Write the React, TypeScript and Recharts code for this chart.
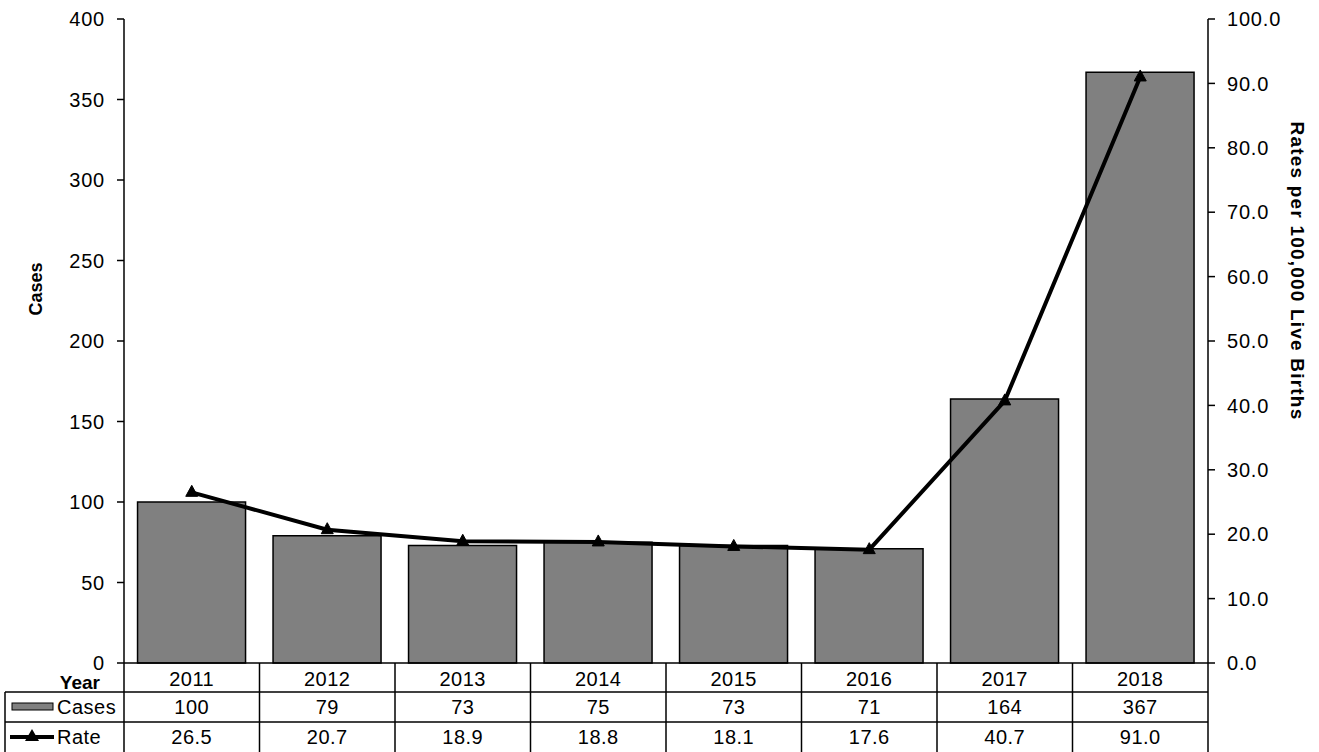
import React from 'react';
import { ComposedChart, Bar, Line, XAxis, YAxis } from 'recharts';

const years = ['2011', '2012', '2013', '2014', '2015', '2016', '2017', '2018'];
const cases = [100, 79, 73, 75, 73, 71, 164, 367];
const rates = [26.5, 20.7, 18.9, 18.8, 18.1, 17.6, 40.7, 91.0];
const caseTicks = [0, 50, 100, 150, 200, 250, 300, 350, 400];
const rateTicks = [0, 10, 20, 30, 40, 50, 60, 70, 80, 90, 100];

const data = years.map((y, i) => ({ year: y, cases: cases[i], rate: rates[i] }));

const W = 1319;
const H = 752;
const M = { top: 19, right: 31, bottom: 0, left: 64 };
const LEFT_W = 60;
const RIGHT_W = 80;
const X_H = 89;
const PLOT_L = M.left + LEFT_W;
const PLOT_R = W - M.right - RIGHT_W;
const PLOT_B = H - M.bottom - X_H;
const BAND = (PLOT_R - PLOT_L) / years.length;
const ROW1 = 29;
const ROW2 = 30;
const FONT = 'Liberation Sans, Arial, sans-serif';
const FS = 20;

const TableTick = (props: any) => {
  const { x, payload } = props;
  const i = payload.index;
  const l = x - BAND / 2;
  const r = x + BAND / 2;
  const y0 = PLOT_B;
  const y1 = y0 + ROW1;
  const y2 = y1 + ROW2;
  const y3 = H;
  const ts = { fontSize: FS, fontFamily: FONT, fill: '#000', letterSpacing: 0.5 } as any;
  return (
    <g>
      <line x1={l} y1={y0} x2={l} y2={y3} stroke="#000" strokeWidth={1.5} />
      {i === years.length - 1 && <line x1={r} y1={y0} x2={r} y2={y3} stroke="#000" strokeWidth={1.5} />}
      <line x1={l} y1={y1} x2={r} y2={y1} stroke="#000" strokeWidth={1.5} />
      <line x1={l} y1={y2} x2={r} y2={y2} stroke="#000" strokeWidth={1.5} />
      <text x={x} y={y0 + ROW1 / 2 + 1} textAnchor="middle" dominantBaseline="central" {...ts}>{years[i]}</text>
      <text x={x} y={y1 + ROW2 / 2} textAnchor="middle" dominantBaseline="central" {...ts}>{cases[i]}</text>
      <text x={x} y={y2 + ROW2 / 2} textAnchor="middle" dominantBaseline="central" {...ts}>{rates[i].toFixed(1)}</text>
      {i === 0 && (
        <g>
          <text x={100} y={y0 + ROW1 / 2 + 5} textAnchor="end" dominantBaseline="central" fontSize={19} fontWeight="bold" fontFamily={FONT} fill="#000">Year</text>
          <line x1={5} y1={y1} x2={l} y2={y1} stroke="#000" strokeWidth={1.5} />
          <line x1={5} y1={y2} x2={l} y2={y2} stroke="#000" strokeWidth={1.5} />
          <line x1={5} y1={y1} x2={5} y2={y3} stroke="#000" strokeWidth={1.5} />
          <rect x={12} y={y1 + ROW2 / 2 - 4} width={41} height={7} fill="#808080" stroke="#000" strokeWidth={1} />
          <text x={57} y={y1 + ROW2 / 2} dominantBaseline="central" {...ts}>Cases</text>
          <line x1={10} y1={y2 + ROW2 / 2} x2={54} y2={y2 + ROW2 / 2} stroke="#000" strokeWidth={4} />
          <path d={`M${32 - 7},${y2 + ROW2 / 2 + 4} L${32 + 7},${y2 + ROW2 / 2 + 4} L32,${y2 + ROW2 / 2 - 8} Z`} fill="#000" />
          <text x={57} y={y2 + ROW2 / 2} dominantBaseline="central" {...ts}>Rate</text>
        </g>
      )}
    </g>
  );
};

const Triangle = (props: any) => {
  const { cx, cy } = props;
  if (cx == null || cy == null) return null;
  return <path d={`M${cx - 6},${cy + 4} L${cx + 6},${cy + 4} L${cx},${cy - 7} Z`} fill="#000" stroke="#000" />;
};

const LeftLabel = () => (
  <text x={36} y={289} transform="rotate(-90 36 289)" textAnchor="middle" dominantBaseline="central" fontSize={18} fontWeight="bold" fontFamily={FONT} fill="#000">Cases</text>
);
const RightLabel = () => (
  <text x={1297} y={271} transform="rotate(90 1297 271)" textAnchor="middle" dominantBaseline="central" fontSize={19} letterSpacing={1.2} fontWeight="bold" fontFamily={FONT} fill="#000">Rates per 100,000 Live  Births</text>
);

const tickStyle = { fill: '#000', fontSize: FS, fontFamily: FONT, letterSpacing: 0.8 } as any;

export default function App() {
  return (
    <div style={{ position: 'absolute', left: 0, top: 0, width: W, height: H, background: '#fff' }}>
      <ComposedChart width={W} height={H} data={data} margin={M} barCategoryGap="10%">
        <XAxis dataKey="year" height={X_H} tickLine={false} axisLine={{ stroke: '#000', strokeWidth: 1.5 }} tick={<TableTick />} interval={0} />
        <YAxis yAxisId="left" width={LEFT_W} domain={[0, 400]} ticks={caseTicks} interval={0} tickSize={7} tickMargin={12}
          axisLine={{ stroke: '#000', strokeWidth: 1.5 }} tickLine={{ stroke: '#000', strokeWidth: 1.5 }}
          tick={tickStyle} label={<LeftLabel />} />
        <YAxis yAxisId="right" orientation="right" width={RIGHT_W} domain={[0, 100]} ticks={rateTicks} interval={0} tickSize={7} tickMargin={12}
          axisLine={{ stroke: '#000', strokeWidth: 1.5 }} tickLine={{ stroke: '#000', strokeWidth: 1.5 }}
          tickFormatter={(v: number) => v.toFixed(1)}
          tick={tickStyle} label={<RightLabel />} />
        <Bar yAxisId="left" dataKey="cases" fill="#808080" stroke="#000" strokeWidth={1.5} isAnimationActive={false} />
        <Line yAxisId="right" dataKey="rate" stroke="#000" strokeWidth={4} dot={<Triangle />} activeDot={false} isAnimationActive={false} />
      </ComposedChart>
    </div>
  );
}
